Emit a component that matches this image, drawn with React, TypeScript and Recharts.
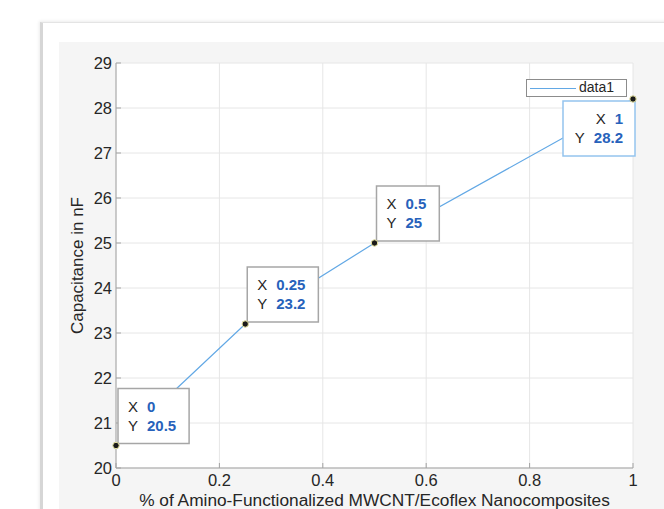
import React from "react";
import {
  LineChart,
  Line,
  XAxis,
  YAxis,
  CartesianGrid,
} from "recharts";

const fillerPercent = [0, 0.25, 0.5, 1];
const capacitance = [20.5, 23.2, 25, 28.2];
const xTicks = [0, 0.2, 0.4, 0.6, 0.8, 1];
const yTicks = [20, 21, 22, 23, 24, 25, 26, 27, 28, 29];
const seriesName = "data1";

const chartData = fillerPercent.map((x, i) => ({ x, y: capacitance[i] }));

const FONT = "'Liberation Sans', Arial, Helvetica, sans-serif";
const LINE_BLUE = "#62a8e5";
const TEXT = "#262626";
const VALUE_BLUE = "#2762bb";
const AXIS = "#a3a3a3";

// rough width of bold digits at 15px
const textWidth = (s: string) =>
  s.split("").reduce((w, c) => w + (c === "." ? 4.2 : 8.3), 0);

const DataTip = (props: any) => {
  const { cx, cy, payload, index } = props;
  if (cx == null || cy == null) return null;
  const xs = String(payload.x);
  const ys = String(payload.y);
  const w = 10 + 10 + 9 + Math.max(textWidth(xs), textWidth(ys)) + 13;
  const h = 55;
  const atRight = payload.x === fillerPercent[fillerPercent.length - 1];
  const left = atRight ? cx + 2 - 72 : cx + 2;
  const top = atRight ? cy + 2 : cy - 2 - h;
  const bw = atRight ? 72 : w;
  const tx = atRight ? left + bw - 12 : left + 10;
  const anchor = atRight ? "end" : "start";
  return (
    <g key={`tip-${index}`}>
      <rect
        x={left}
        y={top}
        width={bw}
        height={h}
        fill="#fff"
        stroke={atRight ? "#94c4ee" : "#a6a6a6"}
        strokeWidth={1.5}
      />
      <text x={tx} y={top + 23} textAnchor={anchor} fontSize={15} fontFamily={FONT} fill={TEXT}>
        <tspan>X</tspan>
        <tspan dx={9} fill={VALUE_BLUE} fontWeight="bold">{xs}</tspan>
      </text>
      <text x={tx} y={top + 42} textAnchor={anchor} fontSize={15} fontFamily={FONT} fill={TEXT}>
        <tspan>Y</tspan>
        <tspan dx={9} fill={VALUE_BLUE} fontWeight="bold">{ys}</tspan>
      </text>
      <circle cx={cx} cy={cy} r={3.2} fill="#1a1a1a" stroke="#e6e3a0" strokeWidth={1} />
    </g>
  );
};

const LegendBox = () => (
  <div
    style={{
      position: "absolute",
      left: 526,
      top: 79,
      width: 99,
      height: 16,
      background: "#fff",
      border: "1px solid #8c8c8c",
      fontFamily: FONT,
      fontSize: 14,
      color: TEXT,
    }}
  >
    <div style={{ position: "absolute", left: 3, top: 8, width: 46, height: 1, background: LINE_BLUE }} />
    <div style={{ position: "absolute", left: 52, top: -1, lineHeight: "17px" }}>{seriesName}</div>
  </div>
);

export default function App() {
  return (
    <div style={{ position: "fixed", left: 0, top: 0, width: 664, height: 509, background: "#fff", overflow: "hidden" }}>
      <div
        style={{
          position: "absolute",
          left: 40,
          top: 22,
          right: -10,
          bottom: -10,
          background: "#fff",
          borderLeft: "3px solid #d6d6d6",
          borderTop: "1px solid #e4e4e4",
          boxShadow: "-1px -1px 3px rgba(0,0,0,0.08)",
        }}
      />
      <div style={{ position: "absolute", left: 59, top: 42, right: 0, bottom: 0, background: "#f5f5f5" }} />
      <div style={{ position: "absolute", left: 0, top: 0 }}>
        <LineChart
          width={664}
          height={509}
          data={chartData}
          margin={{ top: 63, right: 31, left: 56, bottom: 11 }}
        >
          <CartesianGrid stroke="#e6e6e6" fill="#fff" strokeWidth={1} />
          <XAxis
            dataKey="x"
            type="number"
            domain={[0, 1]}
            ticks={xTicks}
            height={30}
            stroke={AXIS}
            tickSize={-5}
            tickMargin={11}
            tick={{ fill: TEXT, fontSize: 16.5, fontFamily: FONT }}
            label={{
              value: "% of Amino-Functionalized MWCNT/Ecoflex Nanocomposites",
              position: "insideBottom",
              offset: -8,
              fill: TEXT,
              fontSize: 17.3,
              fontFamily: FONT,
            }}
          />
          <XAxis
            xAxisId="top"
            dataKey="x"
            type="number"
            orientation="top"
            domain={[0, 1]}
            ticks={xTicks}
            height={0}
            stroke={AXIS}
            tickSize={-5}
            tick={false}
          />
          <YAxis
            type="number"
            domain={[20, 29]}
            ticks={yTicks}
            width={60}
            stroke={AXIS}
            tickSize={-5}
            tickMargin={9}
            interval={0}
            tick={{ fill: TEXT, fontSize: 16.5, fontFamily: FONT }}
            label={{
              value: "Capacitance in nF",
              angle: -90,
              position: "insideLeft",
              offset: 21,
              style: { textAnchor: "middle" },
              fill: TEXT,
              fontSize: 17,
              fontFamily: FONT,
            }}
          />
          <YAxis
            yAxisId="right"
            orientation="right"
            type="number"
            domain={[20, 29]}
            ticks={yTicks}
            width={0}
            stroke={AXIS}
            tickSize={-5}
            tick={false}
            interval={0}
          />
          <Line
            type="linear"
            dataKey="y"
            name={seriesName}
            stroke={LINE_BLUE}
            strokeWidth={1.2}
            dot={(p: any) => <DataTip {...p} />}
            activeDot={false}
            isAnimationActive={false}
          />
        </LineChart>
      </div>
      <LegendBox />
    </div>
  );
}
